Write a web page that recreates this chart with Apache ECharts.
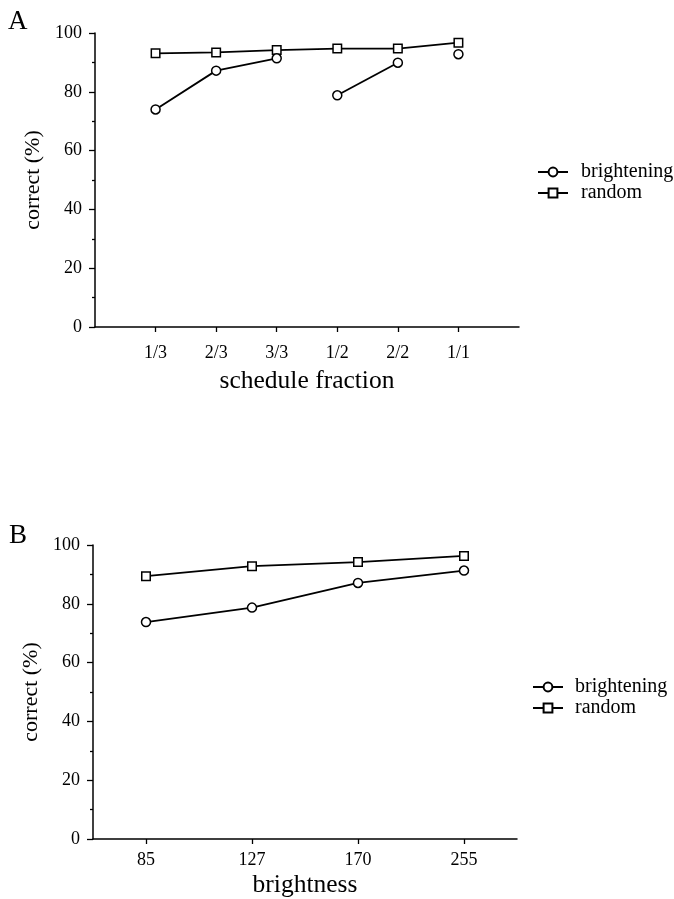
<!DOCTYPE html>
<html>
<head>
<meta charset="utf-8">
<script src="https://cdn.jsdelivr.net/npm/echarts@6/dist/echarts.min.js"></script>
<style>html,body{margin:0;padding:0;background:#fff}#c{width:674px;height:899px}</style>
</head>
<body>
<div id="c"></div>
<script>
// Panel A data
var categoriesA = ['1/3', '2/3', '3/3', '1/2', '2/2', '1/1'];
var brighteningA = [74.0, 87.2, 91.4, 78.8, 89.9, 92.8];
var randomA = [93.1, 93.4, 94.2, 94.7, 94.7, 96.7];
// connected groups of brightening points in panel A (indexes)
var brighteningGroupsA = [[0, 1, 2], [3, 4], [5]];

// Panel B data
var categoriesB = ['85', '127', '170', '255'];
var brighteningB = [73.8, 78.7, 87.1, 91.3];
var randomB = [89.4, 92.8, 94.2, 96.3];

var yTicks = [0, 20, 40, 60, 80, 100];

var FONT = 'Liberation Serif';
var black = '#000';

function yAxis(gridIndex, nameGap) {
  return {
    gridIndex: gridIndex, type: 'value', min: 0, max: 100, interval: 20,
    name: 'correct (%)', nameLocation: 'middle', nameGap: nameGap,
    nameTextStyle: { fontFamily: FONT, fontSize: 22, color: black },
    axisLine: { show: true, lineStyle: { color: black, width: 1.5 } },
    axisTick: { show: true, length: 6, lineStyle: { color: black, width: 1.3 } },
    minorTick: { show: true, splitNumber: 2, length: 3, lineStyle: { color: black, width: 1.3 } },
    axisLabel: { fontFamily: FONT, fontSize: 18, color: black, margin: 13,
      formatter: function (v) { return yTicks.indexOf(v) >= 0 ? String(v) : ''; } },
    splitLine: { show: false }, minorSplitLine: { show: false }
  };
}

var lineStyle = { color: black, width: 1.8 };
var itemStyle = { color: '#fff', borderColor: black, borderWidth: 1.5 };

var series = [];
brighteningGroupsA.forEach(function (g) {
  series.push({
    name: 'brightening', type: 'line', xAxisIndex: 0, yAxisIndex: 0,
    data: g.map(function (i) { return [i + 1, brighteningA[i]]; }),
    symbol: 'circle', symbolSize: 9, lineStyle: lineStyle, itemStyle: itemStyle,
    color: black, z: 3, animation: false
  });
});
series.push({
  name: 'random', type: 'line', xAxisIndex: 0, yAxisIndex: 0,
  data: randomA.map(function (v, i) { return [i + 1, v]; }),
  symbol: 'rect', symbolSize: 8.5, lineStyle: lineStyle, itemStyle: itemStyle,
  color: black, z: 2, animation: false
});
series.push({
  name: 'brightening', type: 'line', xAxisIndex: 1, yAxisIndex: 1,
  data: brighteningB,
  symbol: 'circle', symbolSize: 9, lineStyle: lineStyle, itemStyle: itemStyle,
  color: black, z: 3, animation: false
});
series.push({
  name: 'random', type: 'line', xAxisIndex: 1, yAxisIndex: 1,
  data: randomB,
  symbol: 'rect', symbolSize: 8.5, lineStyle: lineStyle, itemStyle: itemStyle,
  color: black, z: 2, animation: false
});

var tickIdxA = categoriesA.map(function (c, i) { return i + 1; });

function legend(top, left, pad) {
  return {
    data: ['brightening', 'random'], orient: 'vertical', left: left, top: top,
    itemWidth: 30, itemHeight: 11, itemGap: 1, selectedMode: false,
    textStyle: { fontFamily: FONT, fontSize: 20, color: black, padding: [0, 0, 0, pad] }
  };
}

var option = {
  backgroundColor: '#fff',
  animation: false,
  title: [
    { text: 'A', left: 3, top: 3, textStyle: { fontFamily: FONT, fontSize: 27, fontWeight: 'normal', color: black } },
    { text: 'B', left: 4, top: 517, textStyle: { fontFamily: FONT, fontSize: 27, fontWeight: 'normal', color: black } }
  ],
  legend: [legend(157, 532, 8), legend(672, 527, 7)],
  grid: [
    { left: 95, top: 33, width: 424, height: 294 },
    { left: 93, top: 545, width: 424, height: 294 }
  ],
  xAxis: [
    {
      gridIndex: 0, type: 'value', min: 0, max: 7, interval: 1,
      name: 'schedule fraction', nameLocation: 'middle', nameGap: 41,
      nameTextStyle: { fontFamily: FONT, fontSize: 25.5, color: black },
      axisLine: { show: true, lineStyle: { color: black, width: 1.5 } },
      axisTick: { show: true, length: 5, customValues: tickIdxA, lineStyle: { color: black, width: 1.3 } },
      axisLabel: { fontFamily: FONT, fontSize: 18, color: black, margin: 17, customValues: tickIdxA,
        formatter: function (v) { return categoriesA[v - 1] || ''; } },
      splitLine: { show: false }
    },
    {
      gridIndex: 1, type: 'category', data: categoriesB, boundaryGap: true,
      name: 'brightness', nameLocation: 'middle', nameGap: 33,
      nameTextStyle: { fontFamily: FONT, fontSize: 25.5, color: black },
      axisLine: { show: true, lineStyle: { color: black, width: 1.5 } },
      axisTick: { show: true, length: 5, alignWithLabel: true, lineStyle: { color: black, width: 1.3 } },
      axisLabel: { fontFamily: FONT, fontSize: 18, color: black, margin: 12 },
      splitLine: { show: false }
    }
  ],
  yAxis: [yAxis(0, 44), yAxis(1, 42)],
  series: series
};

var chart = echarts.init(document.getElementById('c'), null, { renderer: 'canvas' });
chart.setOption(option);
</script>
</body>
</html>
